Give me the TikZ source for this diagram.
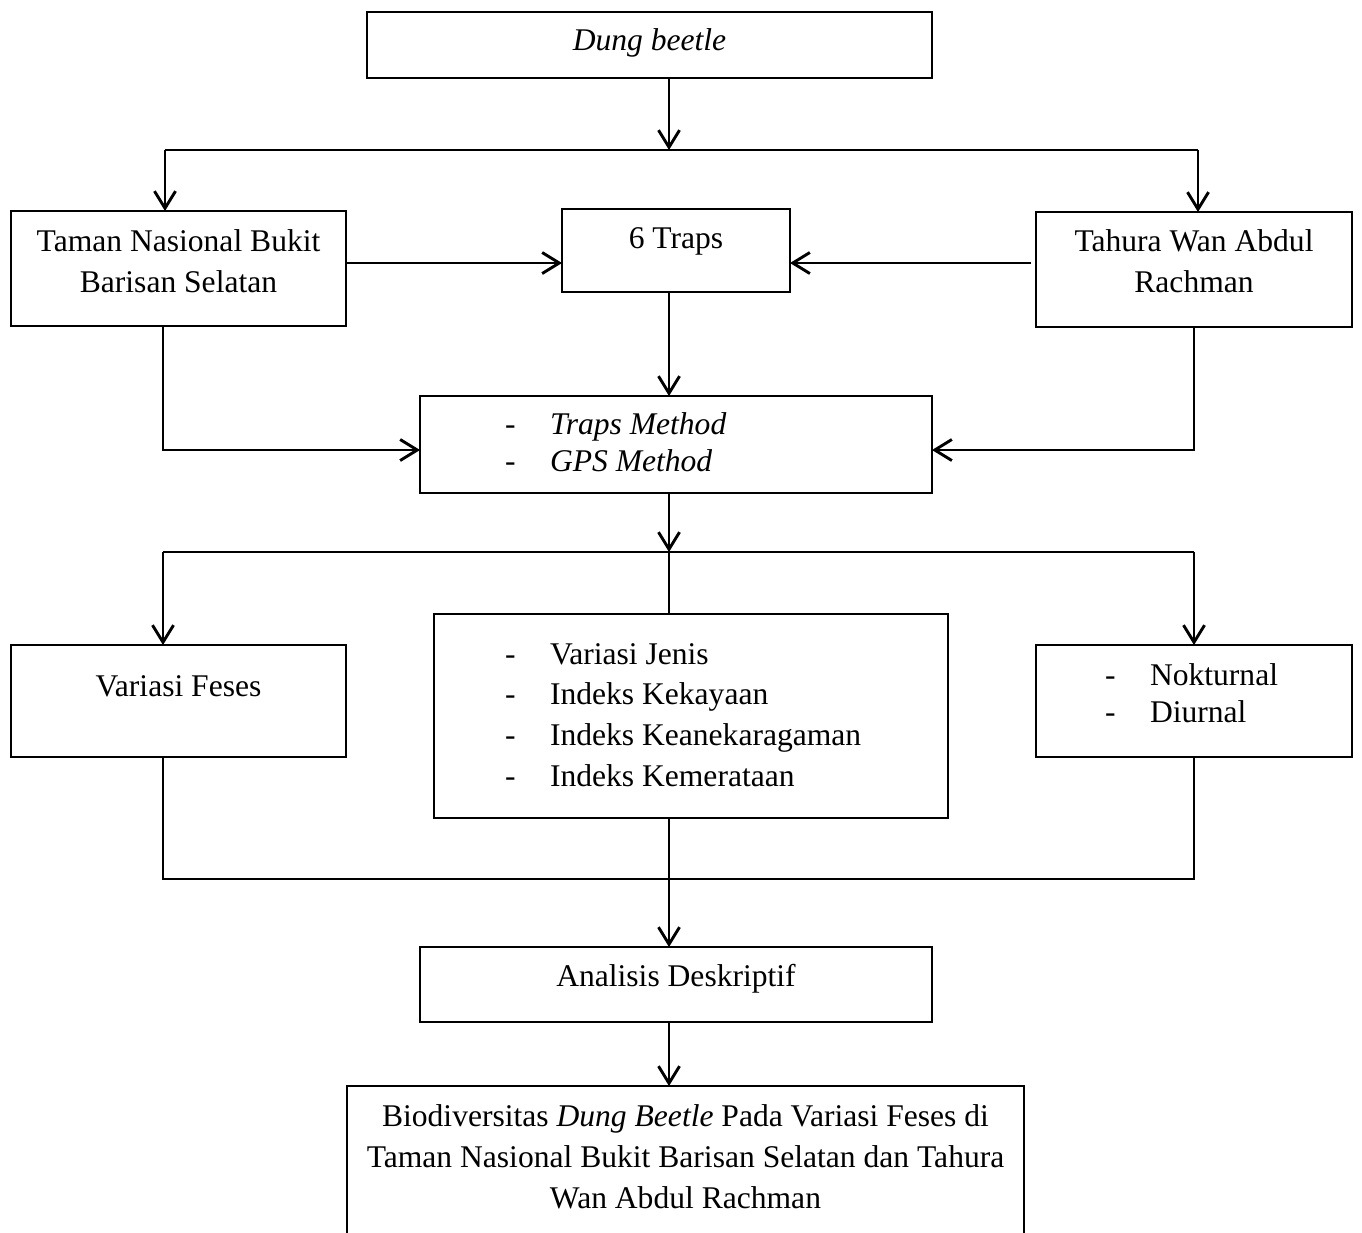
\documentclass[tikz,border=0pt]{standalone}
\usepackage{fontspec}
\setmainfont{Liberation Serif}
\usetikzlibrary{arrows.meta}
\newdimen\pxl \pxl=0.38pt
\newcommand{\itm}{\makebox[45\pxl][l]{-}}
\begin{document}
\begin{tikzpicture}[x=0.38pt,y=-0.38pt,font=\fontsize{12}{15.5}\selectfont]
    \tikzstyle{kotak}=[draw, line width=0.5pt, inner sep=0pt, outer sep=0pt, align=center]
    \tikzstyle{garis}=[line width=1.1pt]
    \tikzstyle{panah}=[garis, -{Straight Barb[length=6.5pt,width=8pt]}]
    \useasboundingbox (0,0) rectangle (1362,1232);
    \node[kotak, minimum width=565\pxl, text height=38\pxl, text depth=28\pxl] (db) at (649.5,45) {\textit{Dung beetle}};
    \node[kotak, minimum width=335\pxl, text height=81\pxl, text depth=34\pxl] (tn) at (178.5,268.5) {Taman Nasional Bukit\\Barisan Selatan};
    \node[kotak, minimum width=228\pxl, text height=39\pxl, text depth=44\pxl] (tr) at (676,250.5) {6 Traps};
    \node[kotak, minimum width=316\pxl, text height=80\pxl, text depth=35\pxl] (th) at (1194,269.5) {Tahura Wan Abdul\\Rachman};
    \node[kotak, align=flush left, inner xsep=85\pxl, text width=342\pxl, text height=38\pxl, text depth=59\pxl, font=\fontsize{12}{14.3}\selectfont] (mt) at (676,444.5) {\itm\textit{Traps Method}\\\itm\textit{GPS Method}};
    \node[kotak, minimum width=335\pxl, text height=51\pxl, text depth=61\pxl] (vf) at (178.5,701) {Variasi Feses};
    \node[kotak, align=flush left, inner xsep=71\pxl, text width=372\pxl, text height=50\pxl, text depth=154\pxl] (ix) at (691,716) {\itm Variasi Jenis\\\itm Indeks Kekayaan\\\itm Indeks Keanekaragaman\\\itm Indeks Kemerataan};
    \node[kotak, align=flush left, inner xsep=69\pxl, text width=178\pxl, text height=40\pxl, text depth=72\pxl, font=\fontsize{12}{14.3}\selectfont] (nd) at (1194,701) {\itm Nokturnal\\\itm Diurnal};
    \node[kotak, minimum width=512\pxl, text height=39\pxl, text depth=36\pxl] (ad) at (676,984.5) {Analisis Deskriptif};
    \node[kotak, minimum width=677\pxl, text height=122\pxl, text depth=26\pxl] (bd) at (685.5,1160) {Biodiversitas \textit{Dung Beetle} Pada Variasi Feses di\\Taman Nasional Bukit Barisan Selatan dan Tahura\\Wan Abdul Rachman};
    % titik bantu
    \coordinate (a1) at (165,150);
    \coordinate (a2) at (1198,150);
    \coordinate (xl) at (163,0);
    \coordinate (xm) at (669,0);
    \coordinate (xr) at (1194,0);
    \coordinate (r1) at (0,263);
    \coordinate (r2) at (0,450);
    \coordinate (r3) at (0,552);
    \coordinate (r4) at (0,879);
    % atas
    \draw[garis] (a1) -- (a2);
    \draw[panah] (db.south -| xm) -- (xm |- a1);
    \draw[panah] (a1) -- (a1 |- tn.north);
    \draw[panah] (a2) -- (a2 |- th.north);
    \draw[panah] (tn.east |- r1) -- (tr.west |- r1);
    \draw[panah] ([xshift=-5\pxl]th.west |- r1) -- (tr.east |- r1);
    \draw[panah] (tr.south -| xm) -- (mt.north -| xm);
    \draw[panah] (tn.south -| xl) |- (mt.west |- r2);
    \draw[panah] (th.south -| xr) |- (mt.east |- r2);
    % tengah
    \draw[panah] (mt.south -| xm) -- (xm |- r3);
    \draw[garis] (xl |- r3) -- (xr |- r3);
    \draw[panah] (xl |- r3) -- (xl |- vf.north);
    \draw[panah] (xr |- r3) -- (xr |- nd.north);
    \draw[garis] (xm |- r3) -- (xm |- ix.north);
    % bawah
    \draw[garis] (vf.south -| xl) -- (xl |- r4) -- (xr |- r4) -- (nd.south -| xr);
    \draw[panah] (ix.south -| xm) -- (xm |- ad.north);
    \draw[panah] (ad.south -| xm) -- (xm |- bd.north);
\end{tikzpicture}
\end{document}
